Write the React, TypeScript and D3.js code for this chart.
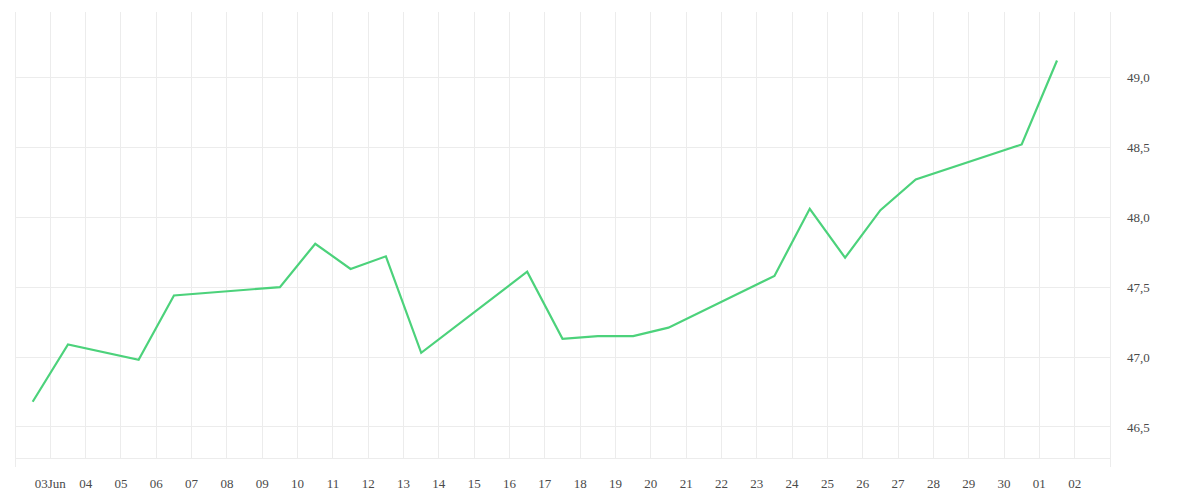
import React, { useMemo } from 'react';
import * as d3 from 'd3';

// observations (taken around midday, weekdays only)
const dates = [
  '2025-06-02', '2025-06-03', '2025-06-05', '2025-06-06', '2025-06-09',
  '2025-06-10', '2025-06-11', '2025-06-12', '2025-06-13', '2025-06-16',
  '2025-06-17', '2025-06-18', '2025-06-19', '2025-06-20', '2025-06-23',
  '2025-06-24', '2025-06-25', '2025-06-26', '2025-06-27', '2025-06-30',
  '2025-07-01',
];
const values = [
  46.68, 47.09, 46.98, 47.44, 47.5,
  47.81, 47.63, 47.72, 47.03, 47.61,
  47.13, 47.15, 47.15, 47.21, 47.58,
  48.06, 47.71, 48.05, 48.27, 48.52,
  49.12,
];
const yTicks = [46.5, 47, 47.5, 48, 48.5, 49];

const W = 1200;
const H = 500;
const LEFT = 15;
const RIGHT = 1110;
const TOP = 12;
const BOTTOM = 458;
const GRID = '#ececec';
const LABEL = '#4a4a4a';

const parseDay = d3.timeParse('%Y-%m-%d');

const App: React.FC = () => {
  const points = useMemo(
    () => dates.map((d, i) => ({ t: d3.timeHour.offset(parseDay(d) as Date, 12), v: values[i] })),
    []
  );

  const x = d3.scaleTime()
    .domain([new Date(2025, 5, 2), new Date(2025, 6, 3)])
    .range([LEFT, RIGHT]);

  const y = d3.scaleLinear()
    .domain([46.278, 49.467])
    .range([BOTTOM, TOP]);

  const days = d3.timeDay.range(new Date(2025, 5, 2), d3.timeDay.offset(new Date(2025, 6, 3), 1));
  const labelDays = days.slice(1, -1);
  const fmtDay = d3.timeFormat('%d');
  const fmtFirst = d3.timeFormat('%d%b');
  const fmtY = (v: number) => d3.format('.1f')(v).replace('.', ',');

  const line = d3.line<{ t: Date; v: number }>()
    .x(d => x(d.t))
    .y(d => y(d.v));

  return (
    <svg width={W} height={H} style={{ position: 'absolute', left: 0, top: 0, fontFamily: 'serif' }}>
      <rect width={W} height={H} fill="#fff" />
      {/* vertical day grid */}
      {days.map((d, i) => {
        const edge = i === 0 || i === days.length - 1;
        return (
          <line key={i} x1={x(d)} x2={x(d)} y1={TOP} y2={edge ? BOTTOM + 9 : BOTTOM}
            stroke={GRID} strokeWidth={1} shapeRendering="crispEdges" />
        );
      })}
      {/* horizontal grid */}
      {yTicks.map(t => (
        <line key={t} x1={LEFT} x2={RIGHT} y1={y(t)} y2={y(t)} stroke={GRID} strokeWidth={1} shapeRendering="crispEdges" />
      ))}
      <line x1={LEFT} x2={RIGHT} y1={BOTTOM} y2={BOTTOM} stroke={GRID} strokeWidth={1} shapeRendering="crispEdges" />

      {/* y labels on the right */}
      {yTicks.map(t => (
        <text key={t} x={1127} y={y(t)} dy="0.35em" fontSize={13} fill={LABEL}>{fmtY(t)}</text>
      ))}

      {/* x labels */}
      {labelDays.map((d, i) => (
        <text key={i} x={x(d)} y={483} dy="0.35em" textAnchor="middle" fontSize={13} fill={LABEL}>
          {i === 0 ? fmtFirst(d) : fmtDay(d)}
        </text>
      ))}

      <path d={line(points) || undefined} fill="none" stroke="#4cd27b" strokeWidth={2.2}
        strokeLinejoin="miter" />
    </svg>
  );
};

export default App;
